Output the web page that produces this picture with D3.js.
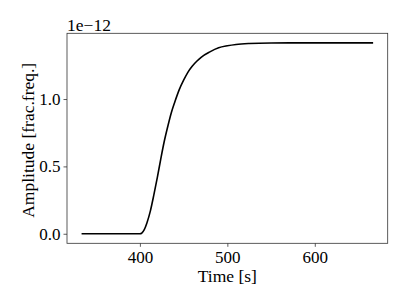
<!DOCTYPE html>
<html>
<head>
<meta charset="utf-8">
<script src="https://cdn.jsdelivr.net/npm/d3@7"></script>
<style>
    body { margin: 0; background: #fff; }
    svg text { font-family: 'Liberation Serif', 'Times New Roman', serif; fill: #000; }
</style>
</head>
<body>
<div class="chart"></div>
<script>
// time samples [s]
const times = [333.3, 360, 390, 400, 402, 405, 408, 412, 416, 420, 424, 428, 432, 436, 440,
    445, 450, 455, 460, 465, 470, 480, 490, 500, 510, 525, 550, 600, 666.7];
// amplitude [frac.freq.] in units of 1e-12
const amps = [0, 0, 0, 0, 0.004, 0.03, 0.08, 0.17, 0.29, 0.42, 0.56, 0.69, 0.80, 0.90, 0.98,
    1.07, 1.14, 1.20, 1.245, 1.28, 1.31, 1.35, 1.38, 1.395, 1.405, 1.412, 1.416, 1.417, 1.417];
const x_ticks = [400, 500, 600];
const y_ticks = [0, 0.5, 1.0];

const width = 407, height = 305;
let padding = {'left': 67, 'top': 33.3, 'right': 19.3, 'bottom': 61.7};
const fontFamily = "'Liberation Serif', serif";
const tickFont = 17, labelFont = 17.5;

let data = times.map((t, i) => ({t: t, v: amps[i]}));

let svg = d3.select('.chart')
    .append('svg')
    .attr('width', width)
    .attr('height', height);

// matplotlib style 5% margins
let t_ext = d3.extent(times), v_ext = d3.extent(amps);
let t_pad = (t_ext[1] - t_ext[0]) * 0.05, v_pad = (v_ext[1] - v_ext[0]) * 0.05;

let x = d3.scaleLinear()
    .domain([t_ext[0] - t_pad, t_ext[1] + t_pad])
    .range([padding.left, width - padding.right]);
let y = d3.scaleLinear()
    .domain([v_ext[0] - v_pad, v_ext[1] + v_pad])
    .range([height - padding.bottom, padding.top]);

// x axis
svg.append('g')
    .attr('transform', `translate(0, ${height - padding.bottom})`)
    .call(d3.axisBottom(x).tickValues(x_ticks).tickFormat(d => d).tickSize(3.5).tickSizeOuter(0))
    .call(g => g.select('.domain').remove())
    .call(g => g.selectAll('line').attr('stroke', '#333').attr('stroke-width', 0.8))
    .call(g => g.selectAll('text').attr('font-family', fontFamily).attr('font-size', tickFont)
        .attr('y', 20).attr('dy', 0));

// y axis
svg.append('g')
    .attr('transform', `translate(${padding.left}, 0)`)
    .call(d3.axisLeft(y).tickValues(y_ticks).tickFormat(d3.format('.1f')).tickSize(3.5).tickSizeOuter(0))
    .call(g => g.select('.domain').remove())
    .call(g => g.selectAll('line').attr('stroke', '#333').attr('stroke-width', 0.8))
    .call(g => g.selectAll('text').attr('font-family', fontFamily).attr('font-size', tickFont).attr('x', -6.5));

// frame
svg.append('rect')
    .attr('x', padding.left)
    .attr('y', padding.top)
    .attr('width', width - padding.left - padding.right)
    .attr('height', height - padding.top - padding.bottom)
    .attr('fill', 'none')
    .attr('stroke', '#333')
    .attr('stroke-width', 0.8);

// curve
let line = d3.line()
    .x(d => x(d.t))
    .y(d => y(d.v))
    .curve(d3.curveMonotoneX);
svg.append('path')
    .datum(data)
    .attr('d', line)
    .attr('fill', 'none')
    .attr('stroke', '#000')
    .attr('stroke-width', 1.6);

// labels
svg.append('text')
    .attr('x', padding.left + (width - padding.left - padding.right) / 2)
    .attr('y', 281.5)
    .attr('text-anchor', 'middle')
    .attr('font-size', labelFont)
    .text('Time [s]');

svg.append('text')
    .attr('transform', `translate(34, ${padding.top + (height - padding.top - padding.bottom) / 2 + 2}) rotate(-90)`)
    .attr('text-anchor', 'middle')
    .attr('font-size', labelFont)
    .text('Amplitude [frac.freq.]');

// offset text
svg.append('text')
    .attr('x', padding.left)
    .attr('y', 30.5)
    .attr('font-size', labelFont)
    .text('1e\u221212');
</script>
</body>
</html>
